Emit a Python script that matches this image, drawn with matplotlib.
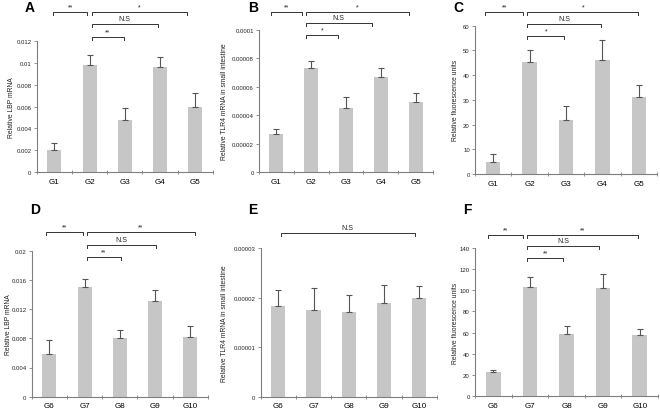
import matplotlib
matplotlib.use("Agg")
from matplotlib import pyplot as plt
from matplotlib.transforms import blended_transform_factory

plt.rcParams['font.family'] = ['Liberation Sans', 'DejaVu Sans']

groups_top = ['G1', 'G2', 'G3', 'G4', 'G5']
groups_bot = ['G6', 'G7', 'G8', 'G9', 'G10']

# panel values (mean, upper error)
lbp_a = [0.0020, 0.0098, 0.0048, 0.0096, 0.0060]
lbp_a_err = [0.0007, 0.0009, 0.0011, 0.0009, 0.0012]
tlr4_b = [0.000027, 0.000073, 0.000045, 0.000067, 0.000049]
tlr4_b_err = [0.0000035, 0.0000055, 0.0000075, 0.000006, 0.0000065]
rfu_c = [5.0, 45.5, 21.8, 46.3, 31.3]
rfu_c_err = [3.2, 4.5, 5.8, 8.0, 4.7]
lbp_d = [0.0059, 0.0150, 0.0081, 0.0131, 0.0082]
lbp_d_err = [0.0018, 0.0011, 0.0011, 0.0015, 0.0015]
tlr4_e = [0.0000182, 0.0000175, 0.0000170, 0.0000190, 0.0000200]
tlr4_e_err = [0.0000033, 0.0000045, 0.0000035, 0.0000035, 0.0000023]
rfu_f = [22.5, 103.0, 59.0, 102.0, 57.5]
rfu_f_err = [2.5, 10.0, 7.0, 13.0, 6.0]

yticks_a = ['0', '0.002', '0.004', '0.006', '0.008', '0.01', '0.012']
yticks_b = ['0', '0.00002', '0.00004', '0.00006', '0.00008', '0.0001']
yticks_c = ['0', '10', '20', '30', '40', '50', '60']
yticks_d = ['0', '0.004', '0.008', '0.012', '0.016', '0.02']
yticks_e = ['0', '0.00001', '0.00002', '0.00003']
yticks_f = ['0', '20', '40', '60', '80', '100', '120', '140']

# brackets: (x start, x end, pixel y from top, label)
brackets_a = [(-0.03, 0.93, 13, '**'), (1.06, 3.76, 13, '*'),
              (1.06, 2.94, 25, 'N.S'), (1.06, 1.98, 38, '**')]
brackets_b = [(-0.16, 0.73, 13, '**'), (0.85, 3.82, 13, '*'),
              (0.85, 2.74, 24, 'N.S'), (0.85, 1.78, 36, '*')]
brackets_c = [(-0.23, 0.83, 13, '**'), (0.94, 3.99, 13, '*'),
              (0.94, 2.95, 25, 'N.S'), (0.94, 1.95, 37, '*')]
brackets_d = [(-0.09, 0.95, 233, '**'), (1.06, 4.13, 233, '**'),
              (1.06, 3.03, 246, 'N.S'), (1.06, 2.02, 258, '**')]
brackets_e = [(0.07, 3.88, 234, 'N.S')]
brackets_f = [(-0.15, 0.82, 236, '**'), (0.93, 3.96, 236, '**'),
              (0.93, 2.89, 247, 'N.S'), (0.93, 1.91, 259, '**')]

W, H = 660, 410
fig = plt.figure(figsize=(W / 100, H / 100), dpi=100)

BAR = '#c6c6c6'
ERR = '#555555'
AX = '#7f7f7f'


def panel(box, letter, letter_xy, groups, vals, errs, yticks, ylabel, brackets, labpos):
    left, right, top, bottom = box
    ax = fig.add_axes([left / W, 1 - bottom / H, (right - left) / W, (bottom - top) / H])
    x = range(len(groups))
    ax.bar(x, vals, width=0.4, color=BAR, zorder=2)
    ax.errorbar(x, vals, yerr=[[0] * len(vals), errs], fmt='none', ecolor=ERR,
                elinewidth=0.8, capsize=2.2, capthick=0.8, zorder=3)
    tv = [float(t) for t in yticks]
    ax.set_ylim(0, tv[-1])
    ax.set_xlim(-0.5, len(groups) - 0.5)
    ax.set_yticks(tv)
    ax.set_yticklabels(yticks, fontsize=4.3, color='#222222')
    ax.set_xticks(list(x))
    ax.set_xticklabels(groups, fontsize=5.8)
    ax.tick_params(axis='x', length=0, pad=4)
    ax.set_xticks([i - 0.5 for i in range(len(groups) + 1)], minor=True)
    ax.tick_params(axis='x', which='minor', length=2.5, width=0.6, color=AX, direction='inout')
    ax.tick_params(axis='y', length=2.2, width=0.6, color=AX, pad=1.5)
    for s in ['top', 'right']:
        ax.spines[s].set_visible(False)
    for s in ['left', 'bottom']:
        ax.spines[s].set_color(AX)
        ax.spines[s].set_linewidth(0.8)
    fig.text(labpos / W, 1 - ((top + bottom) / 2) / H, ylabel, rotation=90,
             fontsize=4.9, ha='center', va='center', color='#222222')
    tr = blended_transform_factory(ax.transData, fig.transFigure)
    for x1, x2, py, txt in brackets:
        yb = 1 - py / H
        yt = 1 - (py + 2.5) / H
        ax.plot([x1, x1, x2, x2], [yt, yb, yb, yt], color='#333333', lw=0.7,
                transform=tr, clip_on=False)
        ax.text((x1 + x2) / 2, yb + 2 / H, txt, transform=tr, fontsize=5.0,
                ha='center', va='bottom', color='#222222')
    fig.text(letter_xy[0] / W, 1 - letter_xy[1] / H, letter,
             fontsize=10, fontweight='bold', ha='left', va='top')
    return ax


panel((36.7, 213, 41.7, 173.3), 'A', (25, 1), groups_top, lbp_a, lbp_a_err, yticks_a,
      'Relative LBP mRNA', brackets_a, 12)
panel((259, 433, 31, 173), 'B', (248, 1), groups_top, tlr4_b, tlr4_b_err, yticks_b,
      'Relative TLR4 mRNA in small intestine', brackets_b, 224)
panel((475, 657, 26.7, 175), 'C', (453, 1), groups_top, rfu_c, rfu_c_err, yticks_c,
      'Relative fluorescence units', brackets_c, 455)
panel((31.7, 208, 251.7, 397.7), 'D', (30, 203), groups_bot, lbp_d, lbp_d_err, yticks_d,
      'Relative LBP mRNA', brackets_d, 9)
panel((260.7, 436.7, 249, 397.7), 'E', (248, 203), groups_bot, tlr4_e, tlr4_e_err, yticks_e,
      'Relative TLR4 mRNA in small intestine', brackets_e, 224)
panel((475, 658, 249, 397), 'F', (463, 203), groups_bot, rfu_f, rfu_f_err, yticks_f,
      'Relative fluorescence units', brackets_f, 455)

fig.savefig('out.png', dpi=100)
